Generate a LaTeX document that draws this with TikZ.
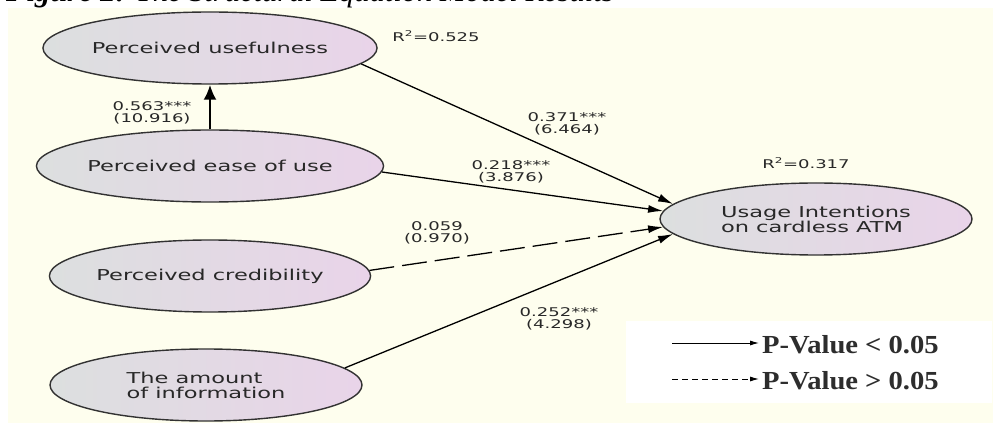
\documentclass[tikz,border=0pt]{standalone}
\usepackage{fontspec}
\setmainfont{Liberation Serif}
\newfontfamily\lblfont[FakeStretch=1.5]{DejaVu Sans}
\newfontfamily\legfont[FakeStretch=1.1]{Liberation Serif}
\usetikzlibrary{shapes.geometric,arrows.meta}
\definecolor{cream}{RGB}{254,254,238}
\definecolor{ellL}{RGB}{220,223,223}
\definecolor{ellR}{RGB}{233,212,233}
\definecolor{edgeC}{RGB}{50,50,50}
\definecolor{txtC}{RGB}{40,40,40}
\definecolor{legC}{RGB}{45,45,45}
\begin{document}
\begin{tikzpicture}[x=1pt,y=-1pt,
  construct/.style={ellipse, draw=edgeC, line width=1.4pt, left color=ellL, right color=ellR,
    minimum width=312pt, minimum height=72pt, inner sep=0pt,
    font=\lblfont\fontsize{15}{15}\selectfont, text=txtC, align=left},
  coef/.style={font=\lblfont\fontsize{12}{12.5}\selectfont, text=txtC, align=center, inner sep=0pt},
  sigpath/.style={draw=black, line width=1.3pt, -{Latex[length=15pt,width=8pt]}},
  nspath/.style={sigpath, dash pattern=on 25pt off 8pt},
  legtext/.style={font=\legfont\bfseries\fontsize{26}{26}\selectfont, text=legC, inner sep=0pt},
  legarrow/.style={draw=black, line width=1pt, -{Latex[length=9pt,width=5pt]}}
]
\useasboundingbox (0,0) rectangle (995,427);
\clip (0,0) rectangle (995,427);
\fill[cream] (8,8.5) rectangle (993,423);
\node[anchor=base west, font=\fontsize{30.5}{31}\selectfont\itshape, inner sep=0pt] (title) at (6,2)
  {\textbf{Figure 2:} The Structural Equation Model Results};

\node[construct] (pu) at (210,48) {Perceived usefulness};
\node[construct] (peou) at (210,166) {Perceived ease of use};
\node[construct] (pc) at (210,276) {Perceived credibility};
\node[construct] (ai) at (206,385) {The amount\\of information};
\node[construct] (ui) at (816,219) {Usage Intentions\\on cardless ATM};

\draw[sigpath] (pu.-6) -- (ui.174);
\draw[sigpath] (peou.-2) -- (ui.177);
\draw[nspath] (pc.2) -- (ui.183);
\draw[sigpath] (ai.7) -- (ui.186);
\draw[draw=black, line width=2.6pt, -{Latex[length=15pt,width=13pt]}] (peou.north) -- (pu.south);

\node[coef] (l1) at (152,113) {0.563***\\(10.916)};
\node[coef] (l2) at (567,124) {0.371***\\(6.464)};
\node[coef] (l3) at (511,172) {0.218***\\(3.876)};
\node[coef] (l4) at (437,233) {0.059\\(0.970)};
\node[coef] (l5) at (559,319) {0.252***\\(4.298)};
\node[coef] (r1) at (436,36) {R\textsuperscript{2}=0.525};
\node[coef] (r2) at (806,163) {R\textsuperscript{2}=0.317};

\fill[white] (626,321) rectangle (992,403);
\node[legtext, anchor=base west] (t1) at (762,353) {P-Value < 0.05};
\node[legtext, anchor=base west] (t2) at (762,389) {P-Value > 0.05};
\coordinate (s1) at (672,343);
\coordinate (e1) at (759,343);
\coordinate (s2) at (672,379);
\coordinate (e2) at (759,379);
\draw[legarrow] (s1) -- (e1);
\draw[legarrow, dash pattern=on 6pt off 4pt] (s2) -- (e2);
\end{tikzpicture}
\end{document}
